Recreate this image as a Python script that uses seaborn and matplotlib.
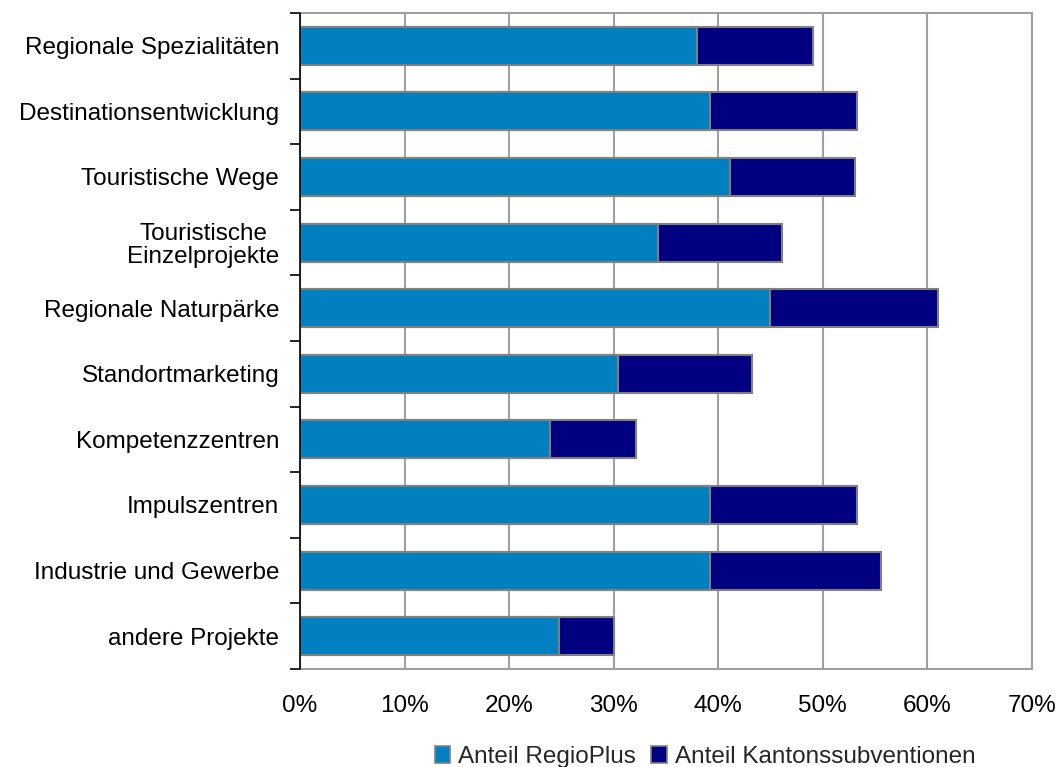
import matplotlib
matplotlib.use("Agg")
import matplotlib.pyplot as plt
import seaborn as sns
import pandas as pd
import numpy as np
from matplotlib.patches import Patch
from matplotlib.ticker import FixedLocator, PercentFormatter

categories = [
    "Regionale Spezialitäten",
    "Destinationsentwicklung",
    "Touristische Wege",
    "Touristische\nEinzelprojekte",
    "Regionale Naturpärke",
    "Standortmarketing",
    "Kompetenzzentren",
    "Impulszentren",
    "Industrie und Gewerbe",
    "andere Projekte",
]
anteil_regioplus = [38.0, 39.2, 41.1, 34.2, 44.9, 30.4, 23.9, 39.2, 39.2, 24.8]
anteil_kanton = [11.1, 14.1, 12.0, 11.9, 16.1, 12.8, 8.2, 14.1, 16.4, 5.2]
series_labels = ["Anteil RegioPlus", "Anteil Kantonssubventionen"]
x_ticks = [0, 10, 20, 30, 40, 50, 60, 70]

df = pd.DataFrame({
    "Projekt": categories,
    "RegioPlus": anteil_regioplus,
    "Kanton": anteil_kanton,
})
df["Gesamt"] = df["RegioPlus"] + df["Kanton"]

sns.set_theme(style="white")
plt.rcParams["font.family"] = ["Liberation Sans", "DejaVu Sans"]

FS = 17.5
c_regio = "#0080C0"
c_kanton = "#000080"
edge = "#808080"
grid_c = "#A0A0A0"

fig = plt.figure(figsize=(10.58, 7.67), dpi=100)
ax = fig.add_axes([300 / 1058, 1 - 669 / 767, 732 / 1058, 656 / 767])

# stacked bars: total underneath, RegioPlus share on top
sns.barplot(data=df, y="Projekt", x="Gesamt", orient="h", color=c_kanton,
            saturation=1, width=0.58, edgecolor=edge, linewidth=1.5, ax=ax, zorder=3)
sns.barplot(data=df, y="Projekt", x="RegioPlus", orient="h", color=c_regio,
            saturation=1, width=0.58, edgecolor=edge, linewidth=1.5, ax=ax, zorder=4)

ax.set_xlim(0, 70)
ax.set_ylim(len(categories) - 0.5, -0.5)
ax.xaxis.set_major_locator(FixedLocator(x_ticks))
ax.xaxis.set_major_formatter(PercentFormatter(decimals=0))
ax.grid(axis="x", color=grid_c, linewidth=1.5, zorder=0)
ax.set_axisbelow(True)
ax.set_xlabel("")
ax.set_ylabel("")

for side in ["top", "right", "bottom"]:
    ax.spines[side].set_color(grid_c)
    ax.spines[side].set_linewidth(1.5)
ax.spines["left"].set_color("black")
ax.spines["left"].set_linewidth(1.2)
ax.spines["left"].set_zorder(5)

ax.tick_params(axis="x", length=0, pad=19, labelsize=FS, colors="black")
ax.tick_params(axis="y", which="major", length=0, pad=15, labelsize=FS, colors="black")
ax.yaxis.set_minor_locator(FixedLocator(np.arange(-0.5, len(categories), 1.0)))
ax.tick_params(axis="y", which="minor", left=True, length=7, width=1.2, color="black")
for lbl in ax.get_yticklabels():
    lbl.set_multialignment("center")
    lbl.set_linespacing(1.08)

handles = [Patch(facecolor=c_regio, edgecolor=edge, linewidth=1.2),
           Patch(facecolor=c_kanton, edgecolor=edge, linewidth=1.2)]
fig.legend(handles, series_labels, loc="center", bbox_to_anchor=(705 / 1058, 1 - 757 / 767),
           ncol=2, frameon=False, fontsize=FS, handlelength=0.65, handleheight=0.65,
           handletextpad=0.33, columnspacing=0.6, borderaxespad=0, borderpad=0)

fig.savefig("out.png", dpi=100, facecolor="white")
